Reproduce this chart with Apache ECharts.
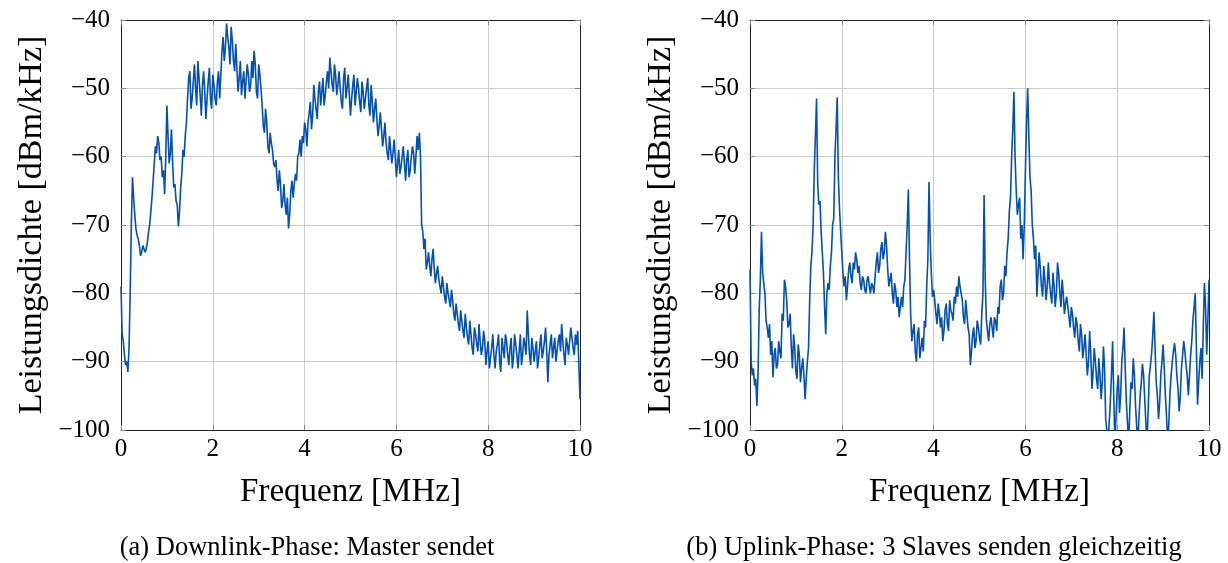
<!DOCTYPE html>
<html>
<head>
<meta charset="utf-8">
<script src="https://cdn.jsdelivr.net/npm/echarts@6/dist/echarts.min.js"></script>
<style>
html,body{margin:0;padding:0;background:#fff;}
#chart{width:1228px;height:563px;}
</style>
</head>
<body>
<div id="chart"></div>
<script>
// Frequency sampling (MHz): main readings every FREQ_STEP from FREQ_START,
// in-between readings half a step later.
const FREQ_START = 0;
const FREQ_STEP = 0.05;

// Panel (a): Downlink-Phase, power density in dBm/kHz (readings at 0, 0.05, ... 10 MHz)
const downlinkLevel = [
 -79,-87,-90.5,-91.5,-80,-63,-68.5,-71.5,-73,-74,
 -73,-73.5,-71,-68,-63.5,-58.5,-57,-60.5,-63,-65.5,
 -52.5,-61,-56,-64.5,-66.5,-70.2,-64.5,-59,-57,-51.5,
 -47.5,-51.5,-46.5,-52.5,-48.5,-54,-47.5,-54.5,-49,-51.5,
 -48,-51.5,-49,-51.5,-44.5,-46,-40.5,-44,-41,-46,
 -43.5,-50.5,-46,-49,-51.5,-46.5,-50.5,-46,-44.5,-50.5,
 -46.5,-50,-55.5,-53,-58.5,-56.5,-59,-61.5,-63.5,-62,
 -67.5,-64,-68.5,-70.5,-65,-66,-62.5,-60,-57.5,-57,
 -55,-58.5,-53.5,-56,-49.5,-53,-50.5,-52.5,-48.5,-51,
 -47.5,-45.5,-49.5,-46.5,-51,-47.5,-52,-48.5,-51.5,-48,
 -54,-49.5,-52.5,-48.5,-52,-49,-53,-50,-52.5,-49.5,
 -55,-51.5,-57,-53.5,-58.5,-55,-59.5,-57,-61,-57.5,
 -63,-59,-61.5,-58.5,-63.5,-59,-62,-58.5,-62.5,-57,
 -56.5,-70,-73.5,-76.5,-74,-77.5,-73.5,-78.5,-76,-79,
 -77.5,-80.5,-78.5,-81,-79.5,-83,-81.5,-84.5,-82.5,-85.5,
 -83,-86.5,-84,-88,-85,-87.5,-84.5,-89,-85.5,-90.5,
 -87,-89.5,-86,-91,-87.5,-90,-86.5,-89.5,-87,-90.5,
 -86.5,-89.5,-87.5,-91,-86,-89,-87.5,-82.5,-89,-86.5,
 -90,-87,-89.5,-86,-88.5,-85,-93,-87.5,-89.5,-86.5,
 -88.5,-86,-84.5,-89,-86.5,-89,-85,-88,-86,-85.5,
 -95.5
];
// Panel (a): in-between readings (at 0.025, 0.075, ... 9.975 MHz)
const downlinkLevelMid = [
 -86,-89,-90,-88,-70,-66,-70.5,-72,-74.5,-73,
 -74,-72.5,-70,-66,-61,-59.5,-58,-60,-62,-60,
 -57,-59.5,-61,-64,-67,-68,-62.5,-60,-55,-48.5,
 -53,-49,-50,-46,-51,-49.5,-50.5,-51.5,-47,-53,
 -49.5,-52.5,-47.5,-48,-42.5,-44,-42.5,-46.5,-43,-47.5,
 -47,-48.5,-51,-47.5,-49,-48,-49.5,-48.5,-46.5,-51.5,
 -48,-52.5,-56.5,-55,-59.5,-58,-61,-60.5,-65,-64,
 -66.5,-67,-66,-68.5,-63.5,-64,-63.5,-59.5,-60,-58,
 -56,-55,-52,-54,-51.5,-54.5,-49,-50.5,-52.5,-49,
 -50,-47.5,-50.5,-48,-49.5,-50,-53,-47,-50,-51,
 -51.5,-48,-50.5,-50,-53.5,-50.5,-51.5,-48.5,-54,-52,
 -53,-54.5,-55.5,-56,-57,-58,-60.5,-59,-59.5,-60,
 -61,-62.5,-60,-61,-60.5,-63,-60,-59.5,-60,-59,
 -60,-71,-72,-75.5,-76,-75,-76.5,-77,-78,-80,
 -79,-81.5,-80,-82,-81,-84,-83,-85.5,-84,-86.5,
 -85,-87.5,-86,-89,-86,-88.5,-87,-88,-87,-88.5,
 -91,-88,-89,-88.5,-86,-91.5,-88,-86,-89,-88,
 -91,-86,-89,-88.5,-90.5,-86.5,-89,-86,-90.5,-88,
 -88.5,-91,-87.5,-89.5,-87,-88.5,-89,-86,-88,-90,
 -87,-88.5,-87,-90.5,-87.5,-87,-86.5,-89,-87.5,-85.5
];

// Panel (b): Uplink-Phase, power density in dBm/kHz (readings at 0, 0.05, ... 10 MHz)
const uplinkLevel = [
 -76.5,-92,-93.5,-96.5,-82.5,-71,-78.5,-84,-86.5,-89,
 -92.3,-88,-90.5,-88.5,-83,-78,-81,-84.5,-88,-86,
 -91.5,-87.5,-93,-89.5,-95.5,-90,-81,-74,-62,-51.5,
 -67,-71,-77,-86,-78.5,-76,-70,-60,-51.3,-67.5,
 -74,-79,-81,-76.5,-77.5,-75.5,-74,-77,-78.5,-77.5,
 -79.5,-78,-79,-78.5,-80,-75.5,-77,-73.5,-75,-71,
 -76.5,-78,-80,-78.5,-82,-83.5,-80.5,-79,-74,-64.8,
 -83,-85.5,-88.5,-86,-89.5,-86.5,-84,-79,-63.7,-77,
 -79.5,-83,-81.5,-85,-87,-82.5,-84.5,-81,-83,-80.5,
 -79,-77.5,-80,-83.5,-81,-85,-90.5,-86,-88,-84,
 -86.5,-83,-65.6,-84,-87,-83.5,-86.5,-84,-82,-79,
 -81,-76,-74,-68,-60,-50.5,-65,-67,-72,-75,
 -62,-50,-63,-70,-75,-80.5,-74,-79,-76,-81,
 -75.5,-80,-77,-82,-75.5,-80,-78,-83,-80.5,-83.5,
 -82,-85,-83.5,-87,-84.5,-89.5,-86,-92,-85.5,-94,
 -88,-92.5,-89.5,-95.5,-87.8,-98.5,-102,-96,-87,-102,
 -94,-97.5,-90,-85,-96,-102,-93,-89.5,-96.5,-102,
 -95,-90.3,-95.5,-102,-92,-88.8,-82.7,-93,-98.4,-92,
 -87.5,-95,-102,-94.5,-90,-87.3,-92,-97.3,-91,-87,
 -90.5,-94.9,-89,-83.9,-80,-96.3,-90,-92.5,-78.5,-89,
 -78
];
// Panel (b): in-between readings (at 0.025, 0.075, ... 9.975 MHz)
const uplinkLevelMid = [
 -90,-91,-92.5,-92,-78,-77,-80,-85,-84.5,-87,
 -89,-91,-87,-89.5,-84,-79,-85,-83,-91,-88,
 -92.5,-89,-91,-92,-92.5,-88,-76,-70,-57,-64,
 -66.5,-74,-82,-80,-79.5,-74,-69,-56,-63,-71,
 -77,-77.5,-79,-75.5,-78.5,-76.5,-75,-76,-79.5,-78,
 -80,-77.5,-80,-79,-77.5,-74,-76,-72.5,-74,-73,
 -79,-77,-81.5,-79.5,-80.5,-82,-82,-78,-70,-75,
 -87,-84.5,-90,-85,-88,-88.5,-85,-75,-72,-80.5,
 -81,-84.5,-83,-83.5,-85.5,-81.5,-85.5,-82.5,-84,-81.5,
 -80.5,-79,-81,-84.5,-83,-86,-88.5,-85,-87,-85,
 -87.5,-80,-78,-85.5,-84.5,-85,-83.5,-85.5,-83,-78,
 -80,-77.5,-72,-66,-56,-60,-68.5,-66,-70,-70,
 -55,-57,-65,-72,-73,-77,-76.5,-80.5,-78,-79,
 -78.5,-81.5,-79,-80,-77,-82,-80,-81.5,-82,-85,
 -83,-86.5,-84.5,-88.5,-86,-88,-89,-90,-89,-91.5,
 -90,-94,-92,-93,-91,-100,-99,-92,-95,-98,
 -92,-95,-88,-91,-99,-97,-94,-92,-99.5,-98,
 -93,-92,-99,-97,-90.5,-86,-88,-95,-96,-90,
 -91,-98,-99,-92,-88.5,-89,-94,-95,-89,-88.5,
 -92,-92,-87,-82,-88,-93,-88,-85,-82,-84
];

const xTicks = [0, 2, 4, 6, 8, 10];
const yTicks = [-100, -90, -80, -70, -60, -50, -40];
const xTitle = 'Frequenz [MHz]';
const yTitle = 'Leistungsdichte [dBm/kHz]';
const captions = ['(a) Downlink-Phase: Master sendet', '(b) Uplink-Phase: 3 Slaves senden gleichzeitig'];

function toPairs(levels, mids) {
  const out = [];
  levels.forEach((v, i) => {
    const f = FREQ_START + i * FREQ_STEP;
    out.push([+f.toFixed(4), v]);
    if (i < mids.length) out.push([+(f + FREQ_STEP / 2).toFixed(4), mids[i]]);
  });
  return out;
}

const FONT = '"Liberation Serif", "DejaVu Serif", serif';
const LINE_COLOR = '#0050b5';
const fmt = v => String(v).replace('-', '\u2212');

const grids = [
  {left: 121, top: 20, width: 459, height: 410},
  {left: 750, top: 20, width: 459, height: 410}
];

const xAxes = [], yAxes = [];
grids.forEach((g, gi) => {
  const baseX = {
    type: 'value', gridIndex: gi, min: xTicks[0], max: xTicks[xTicks.length - 1], interval: 2
  };
  const baseY = {
    type: 'value', gridIndex: gi, min: yTicks[0], max: yTicks[yTicks.length - 1], interval: 10
  };
  xAxes.push(Object.assign({}, baseX, {
    position: 'bottom',
    axisLine: {show: true, onZero: false, lineStyle: {color: '#222', width: 1}},
    axisTick: {show: true, inside: true, length: 5, lineStyle: {color: '#888', width: 1}},
    axisLabel: {show: true, margin: 7, color: '#000', fontFamily: FONT, fontSize: 25, formatter: fmt},
    splitLine: {show: true, lineStyle: {color: '#cccccc', width: 1}},
    name: xTitle, nameLocation: 'middle', nameGap: 46,
    nameTextStyle: {color: '#000', fontFamily: FONT, fontSize: 33}
  }));
  xAxes.push(Object.assign({}, baseX, {
    position: 'top',
    axisLine: {show: true, onZero: false, lineStyle: {color: '#222', width: 1}},
    axisTick: {show: true, inside: true, length: 5, lineStyle: {color: '#888', width: 1}},
    axisLabel: {show: false},
    splitLine: {show: false}
  }));
  yAxes.push(Object.assign({}, baseY, {
    position: 'left',
    axisLine: {show: true, onZero: false, lineStyle: {color: '#222', width: 1}},
    axisTick: {show: true, inside: true, length: 5, lineStyle: {color: '#888', width: 1}},
    axisLabel: {show: true, margin: 11, color: '#000', fontFamily: FONT, fontSize: 25, formatter: fmt},
    splitLine: {show: true, lineStyle: {color: '#cccccc', width: 1}},
    name: yTitle, nameLocation: 'middle', nameGap: 72, nameRotate: 90,
    nameTextStyle: {color: '#000', fontFamily: FONT, fontSize: 34}
  }));
  yAxes.push(Object.assign({}, baseY, {
    position: 'right',
    axisLine: {show: true, onZero: false, lineStyle: {color: '#222', width: 1}},
    axisTick: {show: true, inside: true, length: 5, lineStyle: {color: '#888', width: 1}},
    axisLabel: {show: false},
    splitLine: {show: false}
  }));
});

const seriesData = [
  toPairs(downlinkLevel, downlinkLevelMid),
  toPairs(uplinkLevel, uplinkLevelMid)
];
const series = seriesData.map((d, gi) => ({
  type: 'line',
  xAxisIndex: gi * 2,
  yAxisIndex: gi * 2,
  data: d,
  showSymbol: false,
  symbol: 'none',
  clip: true,
  animation: false,
  lineStyle: {color: LINE_COLOR, width: 1.6},
  z: 3
}));

const chart = echarts.init(document.getElementById('chart'), null, {renderer: 'canvas'});
chart.setOption({
  backgroundColor: '#ffffff',
  animation: false,
  grid: grids,
  xAxis: xAxes,
  yAxis: yAxes,
  series: series,
  graphic: captions.map((c, i) => ({
    type: 'text',
    x: i === 0 ? 307 : 934,
    y: 548,
    style: {
      text: c, fill: '#000', font: '26.5px ' + FONT,
      textAlign: 'center', textVerticalAlign: 'middle'
    }
  }))
});
</script>
</body>
</html>
